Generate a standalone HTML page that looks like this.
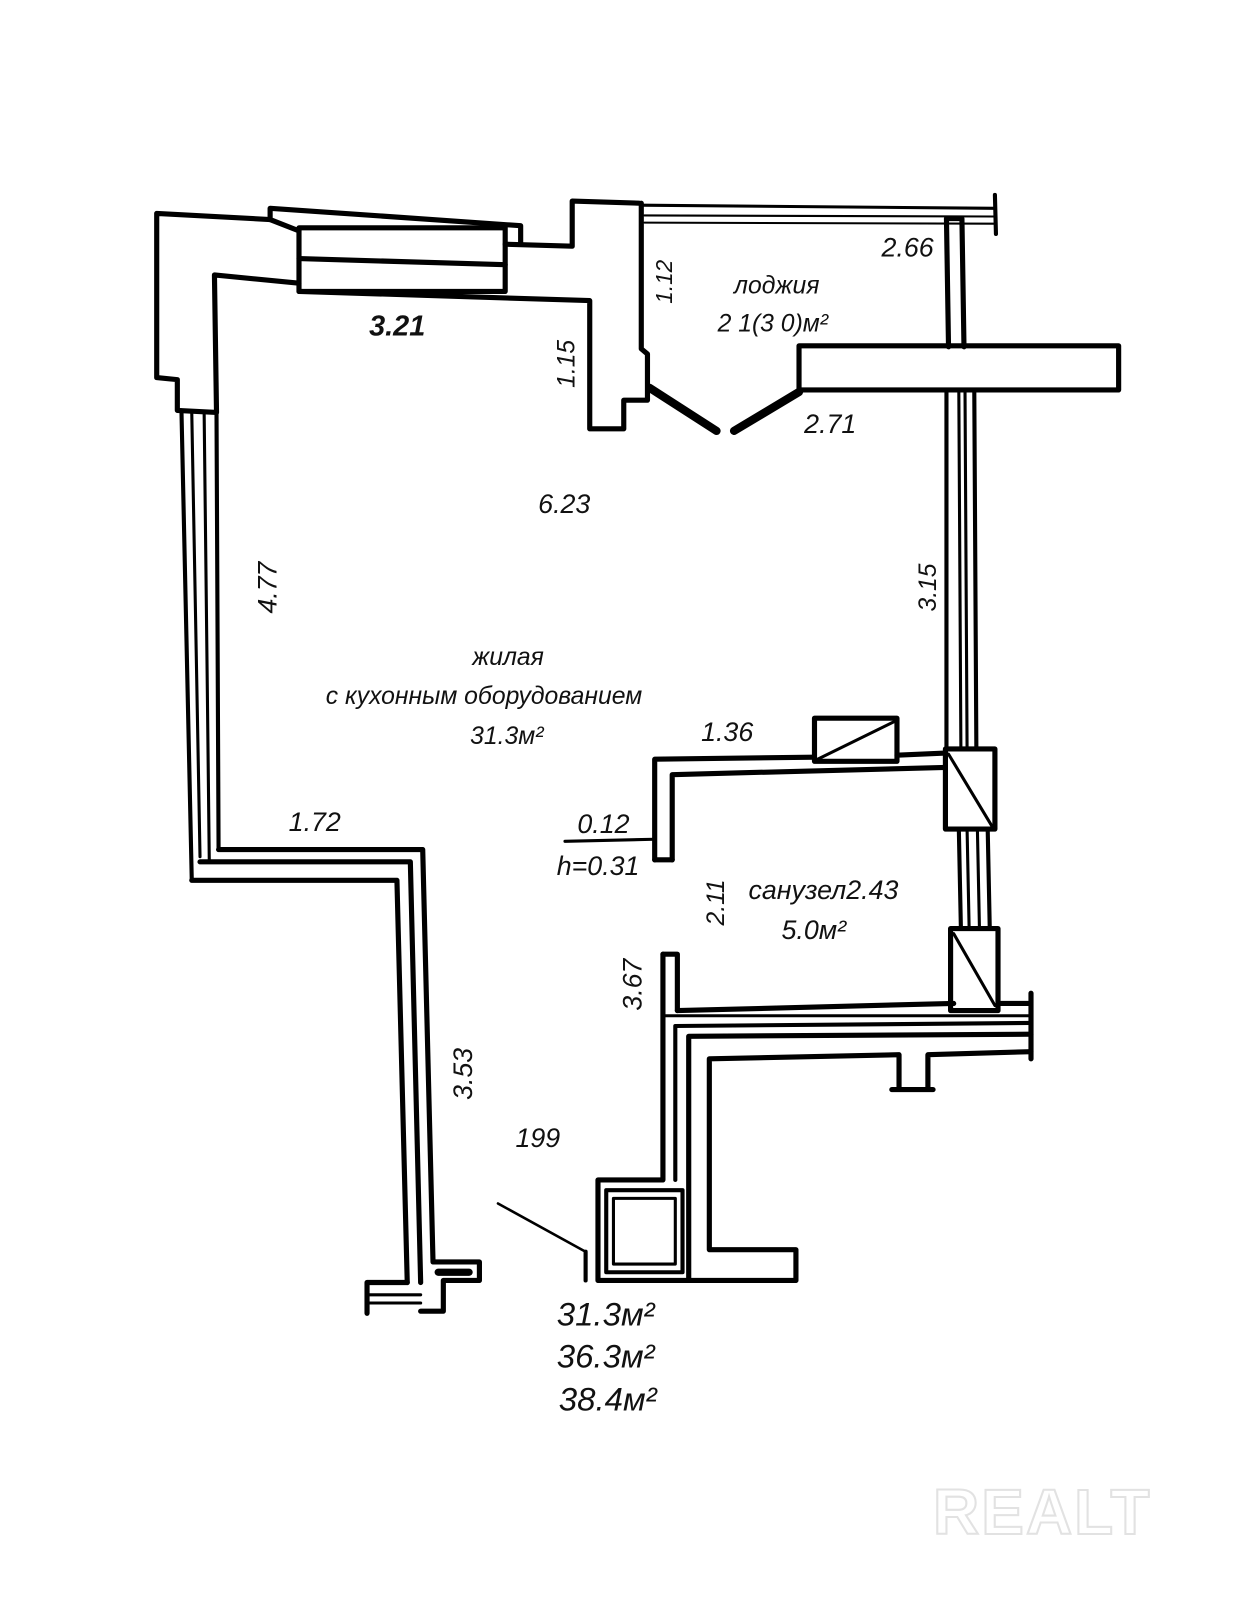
<!DOCTYPE html>
<html><head><meta charset="utf-8"><style>
html,body{margin:0;padding:0;background:#fff;width:1254px;height:1600px;overflow:hidden}
svg{display:block}
text{font-family:"Liberation Sans","DejaVu Sans",sans-serif;font-style:italic;fill:#111}
</style></head><body>
<svg width="1254" height="1600" viewBox="0 0 1254 1600" xmlns="http://www.w3.org/2000/svg">
<rect width="1254" height="1600" fill="#fff"/>
<g transform="scale(1.031,1.026)" fill="none" stroke="#000" stroke-width="5" stroke-linejoin="round" stroke-linecap="round">
<polyline points="262,214 152,208 152,368 172,370 172,400 210,402 208,268 290,276"/>
<polyline points="290,225 262,214 262,203 505,220 505,238"/>
<rect x="290" y="222" width="200" height="62" stroke-width="5"/>
<line x1="290" y1="252" x2="490" y2="258"/>
<polyline points="490,238 555,240 555,196 620,198"/>
<polyline points="290,284 572,293 572,418 605,418 605,390 628,390 628,345 622,340 622,198"/>
<line x1="176" y1="400" x2="186" y2="858" stroke-width="4"/>
<line x1="186" y1="402" x2="194" y2="835" stroke-width="3"/>
<line x1="198" y1="402" x2="203" y2="840" stroke-width="3"/>
<line x1="210" y1="402" x2="212" y2="828" stroke-width="4"/>
<polyline points="186,858 385,858 395,1250"/>
<polyline points="194,840 398,840 408,1250"/>
<polyline points="212,828 410,828 420,1230 465,1230 465,1248 430,1248 430,1278 408,1278"/>
<polyline points="395,1250 356,1250 356,1280"/>
<line x1="358" y1="1262" x2="408" y2="1262" stroke-width="3"/>
<line x1="425" y1="1240" x2="455" y2="1240" stroke-width="7"/>
<line x1="358" y1="1270" x2="408" y2="1270" stroke-width="3"/>
<line x1="622" y1="200" x2="965" y2="203" stroke-width="3"/>
<line x1="625" y1="210" x2="965" y2="211" stroke-width="2"/>
<line x1="625" y1="217" x2="965" y2="218" stroke-width="2"/>
<line x1="965" y1="190" x2="966" y2="228" stroke-width="4"/>
<polyline points="920,338 918,213 933,213 935,338"/>
<rect x="775" y="337" width="310" height="43"/>
<line x1="630" y1="378" x2="695" y2="420" stroke-width="8"/>
<line x1="712" y1="420" x2="775" y2="382" stroke-width="8"/>
<line x1="918" y1="382" x2="918" y2="730" stroke-width="4"/>
<line x1="930" y1="382" x2="932" y2="730" stroke-width="3"/>
<line x1="936" y1="382" x2="938" y2="730" stroke-width="3"/>
<line x1="945" y1="382" x2="947" y2="730" stroke-width="4"/>
<rect x="917" y="730" width="48" height="78"/>
<line x1="920" y1="735" x2="962" y2="805" stroke-width="3"/>
<line x1="930" y1="808" x2="932" y2="905" stroke-width="4"/>
<line x1="938" y1="808" x2="940" y2="905" stroke-width="3"/>
<line x1="948" y1="808" x2="950" y2="905" stroke-width="3"/>
<line x1="958" y1="808" x2="960" y2="905" stroke-width="4"/>
<rect x="922" y="905" width="46" height="80"/>
<line x1="925" y1="910" x2="965" y2="980" stroke-width="3"/>
<polyline points="635,838 635,740 790,738"/>
<rect x="790" y="700" width="80" height="42"/>
<line x1="793" y1="740" x2="868" y2="703" stroke-width="3"/>
<polyline points="870,736 917,734"/>
<polyline points="652,838 652,755 917,748"/>
<polyline points="635,838 652,838"/>
<line x1="548" y1="820" x2="635" y2="818" stroke-width="3"/>
<polyline points="643,930 657,930 657,985"/>
<polyline points="643,930 643,1150 580,1150 580,1248 668,1248"/>
<line x1="657" y1="985" x2="925" y2="978"/>
<polyline points="968,978 1000,978 1000,968 1000,1032"/>
<line x1="643" y1="990" x2="1000" y2="990" stroke-width="3"/>
<polyline points="655,1150 655,1000 1000,997" stroke-width="4"/>
<polyline points="668,1248 668,1010 1000,1008" stroke-width="5"/>
<polyline points="588,1160 588,1240 662,1240 662,1160 588,1160" stroke-width="4"/>
<polyline points="595,1168 595,1232 655,1232 655,1168 595,1168" stroke-width="3"/>
<polyline points="668,1248 772,1248 772,1218 688,1218 688,1032 872,1028 872,1062 865,1062 905,1062 900,1062 900,1028 1000,1025"/>
<line x1="483" y1="1173" x2="568" y2="1220" stroke-width="2.5"/>
<polyline points="568,1220 568,1248" stroke-width="4"/>
</g>
<g transform="scale(1.031,1.026)">
<text x="358" y="327" font-size="28" font-weight="bold">3.21</text>
<text transform="translate(557,378) rotate(-90)" font-size="24">1.15</text>
<text transform="translate(652,296) rotate(-90)" font-size="22">1.12</text>
<text x="712" y="286" font-size="24">лоджия</text>
<text x="696" y="323" font-size="24">2 1(3 0)м²</text>
<text x="855" y="250" font-size="26">2.66</text>
<text x="780" y="422" font-size="26">2.71</text>
<text x="522" y="500" font-size="26">6.23</text>
<text transform="translate(268,598) rotate(-90)" font-size="26">4.77</text>
<text transform="translate(908,596) rotate(-90)" font-size="24">3.15</text>
<text x="458" y="648" font-size="24">жилая</text>
<text x="316" y="686" font-size="24">с кухонным оборудованием</text>
<text x="456" y="725" font-size="24">31.3м²</text>
<text x="680" y="722" font-size="26">1.36</text>
<text x="560" y="812" font-size="26">0.12</text>
<text x="540" y="853" font-size="26">h=0.31</text>
<text x="280" y="810" font-size="26">1.72</text>
<text transform="translate(702,902) rotate(-90)" font-size="24">2.11</text>
<text x="726" y="876" font-size="26">санузел2.43</text>
<text x="758" y="915" font-size="26">5.0м²</text>
<text transform="translate(622,985) rotate(-90)" font-size="26">3.67</text>
<text transform="translate(458,1072) rotate(-90)" font-size="26">3.53</text>
<text x="500" y="1118" font-size="26">199</text>
<text x="540" y="1292" font-size="32">31.3м²</text>
<text x="540" y="1333" font-size="32">36.3м²</text>
<text x="542" y="1375" font-size="32">38.4м²</text>
<text x="905" y="1495" font-size="62" font-weight="bold" letter-spacing="2" style="fill:#fff;stroke:#e2e2e2;stroke-width:2;font-style:normal">REALT</text>
</g>
</svg>
</body></html>
